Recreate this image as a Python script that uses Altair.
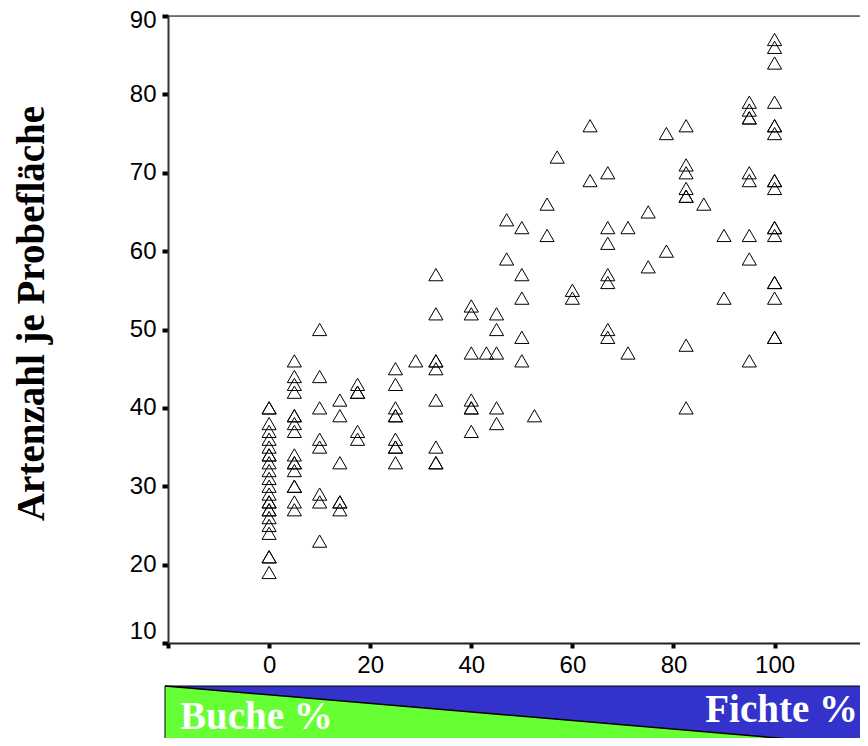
import altair as alt
import pandas as pd

# spruce share (%) of each column of sample plots
fichte_pct = [0, 5, 10, 14, 17.5, 25, 29, 33, 40, 43, 45, 47, 50, 52.5, 55, 57,
              60, 63.5, 67, 71, 75, 78.6, 82.5, 86, 90, 95, 100]
# species count per sample plot, one list per column above
artenzahl = [
    [40, 40, 38, 37, 36, 35, 34, 34, 33, 32, 31, 30, 29, 28, 28, 27, 27, 26, 25, 24, 21, 21, 19],
    [46, 44, 43, 42, 39, 39, 38, 37, 34, 33, 33, 32, 30, 30, 28, 27],
    [50, 44, 40, 36, 35, 29, 28, 23],
    [41, 39, 33, 28, 28, 27],
    [43, 42, 42, 37, 36],
    [45, 43, 40, 39, 39, 36, 35, 35, 33],
    [46],
    [57, 52, 46, 46, 45, 41, 35, 33, 33],
    [53, 52, 47, 41, 40, 40, 37],
    [47],
    [52, 50, 47, 40, 38],
    [64, 59],
    [63, 57, 54, 49, 46],
    [39],
    [66, 62],
    [72],
    [55, 54],
    [76, 69],
    [70, 63, 61, 57, 56, 50, 49],
    [63, 47],
    [65, 58],
    [75, 60],
    [76, 71, 70, 68, 67, 67, 48, 40],
    [66],
    [62, 54],
    [79, 78, 77, 77, 70, 69, 62, 59, 46],
    [87, 86, 84, 79, 76, 76, 75, 69, 69, 68, 63, 63, 62, 56, 56, 54, 49, 49],
]
y_ticks = [10, 20, 30, 40, 50, 60, 70, 80, 90]
x_ticks = [-20, 0, 20, 40, 60, 80, 100]
y_title = "Artenzahl je Probefläche"
band_labels = ["Buche %", "Fichte %"]

rows = []
for xv, ys in zip(fichte_pct, artenzahl):
    for yv in ys:
        rows.append({"x": xv, "y": yv})
df = pd.DataFrame(rows)

W, H = 692, 627

points = alt.Chart(df).mark_point(
    shape="triangle-up", filled=False, color="black", size=200,
    strokeWidth=1, opacity=1
).encode(
    x=alt.X("x:Q", scale=alt.Scale(domain=[-20, 116.9], nice=False, zero=False),
            axis=alt.Axis(values=x_ticks, title=None,
                          labelExpr="datum.value < 0 ? '' : datum.label",
                          labelFont="Liberation Sans", labelFontSize=24,
                          labelColor="black", labelPadding=5,
                          tickSize=5, tickWidth=4, tickColor="black",
                          domainColor="#222", domainWidth=2, grid=False)),
    y=alt.Y("y:Q", scale=alt.Scale(domain=[10, 90], nice=False, zero=False),
            axis=alt.Axis(values=y_ticks, title=y_title,
                          labelFont="Liberation Sans", labelFontSize=24,
                          labelColor="black", labelPadding=6,
                          labelOffset={"condition": [
                              {"test": "datum.value == 10", "value": -12},
                              {"test": "datum.value == 90", "value": 4}],
                              "value": 0},
                          tickSize=6, tickWidth=4, tickColor="black",
                          domainColor="#333", domainWidth=2, grid=False,
                          titleFont="Liberation Serif", titleFontSize=39,
                          titleFontWeight="bold", titleColor="black",
                          titleAngle=270, titleAlign="center",
                          titleBaseline="alphabetic", titleX=-125, titleY=297)),
)

top_line = alt.Chart(pd.DataFrame({"a": [0]})).mark_rule(
    color="black", strokeWidth=1
).encode(x=alt.value(0), x2=alt.value(W), y=alt.value(0))

band_df = pd.DataFrame({"px": [-3, W], "ptop": [670, 729], "pbot": [740, 740]})
blue = alt.Chart(pd.DataFrame({"a": [0]})).mark_rect(
    color="#3333CC"
).encode(x=alt.value(-3), x2=alt.value(W), y=alt.value(670), y2=alt.value(740))
green = alt.Chart(band_df).mark_area(color="#66FF33", opacity=1).encode(
    x=alt.X("px:Q", scale=None, axis=None),
    y=alt.Y("ptop:Q", scale=None, axis=None),
    y2="pbot:Q",
)
diag = alt.Chart(band_df).mark_line(color="black", strokeWidth=1.5).encode(
    x=alt.X("px:Q", scale=None, axis=None),
    y=alt.Y("ptop:Q", scale=None, axis=None),
)
outline = alt.Chart(pd.DataFrame({"a": [0]})).mark_rect(
    fillOpacity=0, stroke="black", strokeWidth=1
).encode(x=alt.value(-3), x2=alt.value(W + 2), y=alt.value(670), y2=alt.value(740))

lab1 = alt.Chart(pd.DataFrame({"t": [band_labels[0]]})).mark_text(
    font="Liberation Serif", fontSize=39, fontWeight="bold", color="white",
    align="left", baseline="alphabetic"
).encode(text="t:N", x=alt.value(12), y=alt.value(713))
lab2 = alt.Chart(pd.DataFrame({"t": [band_labels[1]]})).mark_text(
    font="Liberation Serif", fontSize=39, fontWeight="bold", color="white",
    align="right", baseline="alphabetic"
).encode(text="t:N", x=alt.value(W - 2), y=alt.value(706))

chart = alt.layer(
    blue, green, diag, outline, lab1, lab2, top_line, points
).properties(
    width=W, height=H,
    autosize=alt.AutoSizeParams(type="none"),
    padding={"left": 160, "top": 8, "right": 0, "bottom": 95},
).configure_view(stroke=None).configure(background="white")

chart.save("out.html", embed_options={"renderer": "svg", "actions": False})
